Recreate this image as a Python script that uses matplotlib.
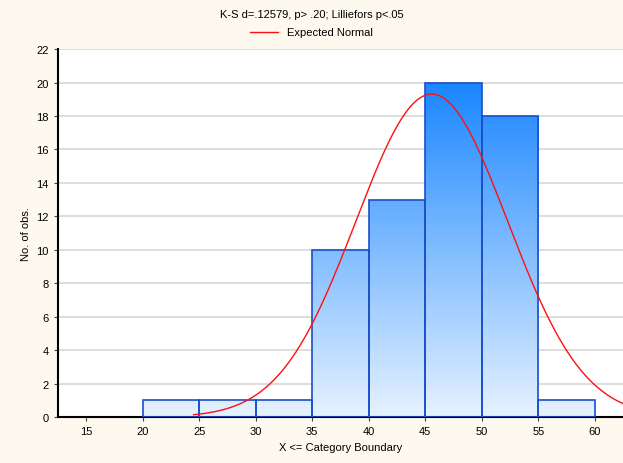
import numpy as np
import matplotlib.pyplot as plt
from matplotlib.patches import Rectangle
from matplotlib.colors import LinearSegmentedColormap

# category boundaries and counts
edges = [20, 25, 30, 35, 40, 45, 50, 55, 60]
counts = [1, 1, 1, 10, 13, 20, 18, 1]
xticks = [15, 20, 25, 30, 35, 40, 45, 50, 55, 60]
yticks = list(range(0, 23, 2))

plt.rcParams['font.family'] = ['Liberation Sans', 'DejaVu Sans']

fig = plt.figure(figsize=(6.23, 4.64), dpi=100)
fig.patch.set_facecolor('#fdf9ef')
ax = fig.add_axes([0.093, 0.099, 0.907, 0.793])
ax.set_facecolor('white')

cmap = LinearSegmentedColormap.from_list('bars', ['#e6f2ff', '#1a86ff'])
grad = np.linspace(0, 1, 256).reshape(-1, 1)

for left, right, c in zip(edges[:-1], edges[1:], counts):
    im = ax.imshow(grad, cmap=cmap, origin='lower', aspect='auto',
                   extent=[left, right, 0, 20], zorder=2)
    rect = Rectangle((left, 0), right - left, c, facecolor='none',
                     edgecolor='#1a4fc8', linewidth=1.2, zorder=3)
    ax.add_patch(rect)
    im.set_clip_path(rect)

# expected normal from the binned data
mids = np.array([(a + b) / 2 for a, b in zip(edges[:-1], edges[1:])])
n = np.array(counts)
N = n.sum()
mu = (mids * n).sum() / N
sd = np.sqrt(((mids - mu) ** 2 * n).sum() / (N - 1))
w = edges[1] - edges[0]
xs = np.linspace(24.5, 63, 400)
ys = N * w / (sd * np.sqrt(2 * np.pi)) * np.exp(-0.5 * ((xs - mu) / sd) ** 2)
ax.plot(xs, ys, color='#ff1010', linewidth=1, zorder=4, label='Expected Normal')

ax.set_xlim(12.5, 62.5)
ax.set_ylim(0, 22)
ax.set_xticks(xticks)
ax.set_yticks(yticks)
ax.grid(axis='y', color='#d8d8d8', linewidth=1.2, zorder=0)
ax.set_axisbelow(True)
ax.tick_params(labelsize=8, length=3, color='#444444')
for s in ['top', 'right']:
    ax.spines[s].set_visible(False)
for s in ['left', 'bottom']:
    ax.spines[s].set_linewidth(1.5)

ax.set_xlabel('X <= Category Boundary', fontsize=8)
ax.set_ylabel('No. of obs.', fontsize=8)
fig.text(0.5, 0.968, 'K-S d=.12579, p> .20; Lilliefors p<.05', ha='center',
         va='center', fontsize=8)
fig.legend(loc='center', bbox_to_anchor=(0.5, 0.928), frameon=False,
           fontsize=8, handlelength=2.5)

fig.savefig('out.png', dpi=100, facecolor=fig.get_facecolor())
